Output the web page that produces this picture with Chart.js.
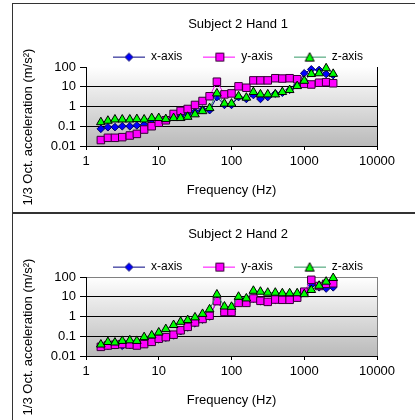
<!DOCTYPE html>
<html lang="en">
<head>
  <meta charset="UTF-8" />
  <title>Subject 2 - 1/3 octave hand acceleration</title>
  <script src="https://cdn.jsdelivr.net/npm/chart.js"></script>
  <style>
    html, body { margin: 0; padding: 0; background: #fff; width: 415px; height: 420px; overflow: hidden; }
    .panel { position: absolute; left: 12px; width: 470px; border: 1px solid #333; overflow: hidden; }
    #panel1 { top: 3px; height: 208px; }
    #panel2 { top: 213px; height: 220px; }
    canvas { position: absolute; left: 0; top: 0; }
  </style>
</head>
<body>
  <div class="panel" id="panel1"><canvas id="hand1" width="450" height="208"></canvas></div>
  <div class="panel" id="panel2"><canvas id="hand2" width="450" height="208"></canvas></div>

  <script>
    // 1/3 octave band centre frequencies (Hz)
    const freqs = [1.6, 2, 2.5, 3.15, 4, 5, 6.3, 8, 10, 12.5, 16, 20, 25, 31.5, 40, 50, 63, 80,
      100, 125, 160, 200, 250, 315, 400, 500, 630, 800, 1000, 1250, 1600, 2000, 2500];

    // Hand 1 (m/s²)
    const hand1X = [0.074, 0.089, 0.09, 0.1, 0.1, 0.11, 0.12, 0.14, 0.18, 0.21, 0.3, 0.35, 0.42, 0.55, 0.7, 0.65,
      3, 1.2, 1.2, 3, 2.4, 3.8, 2.4, 3, 4.5, 5, 7, 12, 48, 76, 71, 44, 39];
    const hand1Y = [0.020, 0.026, 0.026, 0.028, 0.034, 0.041, 0.068, 0.1, 0.15, 0.2, 0.42, 0.6, 0.75, 1.2, 1.9, 3.3,
      18, 4.1, 4.6, 10.5, 8.9, 21, 21, 21, 27, 26, 27, 24, 14, 13, 16, 17, 15];
    const hand1Z = [0.16, 0.19, 0.22, 0.22, 0.22, 0.23, 0.22, 0.26, 0.26, 0.23, 0.26, 0.26, 0.3, 0.4, 0.58, 0.83,
      4.6, 1.4, 1.4, 3.3, 2.8, 5.4, 4.1, 4.1, 4.1, 5.4, 6.8, 10.8, 20, 44, 48, 86, 45];

    // Hand 2 (m/s²)
    const hand2X = [0.03, 0.033, 0.035, 0.033, 0.036, 0.035, 0.04, 0.05, 0.07, 0.085, 0.11, 0.18, 0.28, 0.45, 0.7, 1.0,
      6, 1.8, 1.8, 4.8, 4.8, 8, 6, 5.5, 7, 7, 7, 9, 17, 40, 30, 26, 30];
    const hand2Y = [0.029, 0.034, 0.037, 0.04, 0.038, 0.034, 0.04, 0.052, 0.075, 0.09, 0.12, 0.2, 0.3, 0.5, 0.75, 1.1,
      6, 1.7, 1.7, 4.9, 4.9, 8.2, 6.2, 5.5, 7.2, 7, 7, 9, 18, 72, 35, 45, 48];
    const hand2Z = [0.038, 0.051, 0.048, 0.058, 0.062, 0.058, 0.09, 0.11, 0.155, 0.23, 0.37, 0.54, 0.66, 0.9, 1.35, 2.3,
      13, 3.2, 3.1, 10, 8.2, 20, 18, 16, 16, 15, 15, 15, 13.5, 22, 36, 58, 89];

    const xTicks = [1, 10, 100, 1000, 10000];
    const yTicks = [0.01, 0.1, 1, 10, 100];
    const seriesNames = ['x-axis', 'y-axis', 'z-axis'];
    const yTitle = '1/3 Oct. acceleration (m/s\u00b2)';
    const xTitle = 'Frequency (Hz)';

    const FONT = "'Liberation Sans', Arial, sans-serif";
    Chart.defaults.font.family = FONT;
    Chart.defaults.color = '#000';

    // series look: line colour, marker fill, marker border, marker shape, radius
    const looks = [
      { line: '#000080', fill: '#0000ff', edge: '#000060', shape: 'rectRot', r: 3.8 },
      { line: '#ff00ff', fill: '#ff00ff', edge: '#330033', shape: 'rect', r: 5.3 },
      { line: '#339966', fill: '#00ff00', edge: '#000000', shape: 'triangle', r: 5 }
    ];

    // little line+marker pictures for the legend
    function legendIcon(look) {
      const c = document.createElement('canvas');
      c.width = 32; c.height = 12;
      const g = c.getContext('2d');
      g.strokeStyle = look.line;
      g.lineWidth = 1;
      g.beginPath(); g.moveTo(0, 6.5); g.lineTo(32, 6.5); g.stroke();
      g.fillStyle = look.fill;
      g.strokeStyle = look.edge;
      g.beginPath();
      if (look.shape === 'rectRot') {
        g.moveTo(16, 2.5); g.lineTo(20, 6.5); g.lineTo(16, 10.5); g.lineTo(12, 6.5); g.closePath();
      } else if (look.shape === 'rect') {
        g.rect(12.5, 2.5, 8, 8);
      } else {
        g.moveTo(16, 2); g.lineTo(20.5, 10.5); g.lineTo(11.5, 10.5); g.closePath();
      }
      g.fill(); g.stroke();
      return c;
    }
    const icons = looks.map(legendIcon);

    // grey gradient behind the plot
    const plotBackground = {
      id: 'plotBackground',
      beforeDraw(chart) {
        const a = chart.chartArea;
        const ctx = chart.ctx;
        const grad = ctx.createLinearGradient(0, a.top, 0, a.bottom);
        grad.addColorStop(0, '#ffffff');
        grad.addColorStop(1, '#bababa');
        ctx.save();
        ctx.fillStyle = grad;
        ctx.fillRect(a.left, a.top, a.right - a.left, a.bottom - a.top);
        ctx.restore();
      }
    };

    // y title sits centred on the panel, not on the plot
    const sideTitle = {
      id: 'sideTitle',
      afterDraw(chart) {
        const ctx = chart.ctx;
        ctx.save();
        ctx.translate(15, 123);
        ctx.rotate(-Math.PI / 2);
        ctx.font = '13px ' + FONT;
        ctx.fillStyle = '#000';
        ctx.textAlign = 'center';
        ctx.textBaseline = 'middle';
        ctx.fillText(yTitle, 0, 0);
        ctx.restore();
      }
    };

    function makeChart(id, title, xs, ys, zs, topLine) {
      const datasets = [xs, ys, zs].map((vals, i) => ({
        label: seriesNames[i],
        data: freqs.map((f, k) => ({ x: f, y: vals[k] })),
        borderColor: looks[i].line,
        borderWidth: 1,
        pointStyle: looks[i].shape,
        pointRadius: looks[i].r,
        pointBackgroundColor: looks[i].fill,
        pointBorderColor: looks[i].edge,
        pointBorderWidth: 1,
        order: 2 - i,
        clip: false
      }));

      return new Chart(document.getElementById(id), {
        type: 'line',
        data: { datasets },
        options: {
          responsive: false,
          animation: false,
          layout: { padding: 0 },
          plugins: {
            title: {
              display: true,
              text: title,
              font: { size: 13, weight: 'normal' },
              color: '#000',
              padding: { top: 13, bottom: -3 }
            },
            legend: {
              maxHeight: 37.4,
              labels: {
                usePointStyle: true,
                pointStyleWidth: 32,
                padding: 21,
                font: { size: 12 },
                color: '#000',
                sort: (a, b) => a.datasetIndex - b.datasetIndex,
                generateLabels(chart) {
                  const items = Chart.defaults.plugins.legend.labels.generateLabels(chart);
                  return items.map(item => Object.assign(item, { pointStyle: icons[item.datasetIndex] }));
                }
              }
            },
            tooltip: { enabled: false }
          },
          scales: {
            x: {
              type: 'logarithmic',
              min: 1,
              max: 10000,
              afterBuildTicks: s => { s.ticks = xTicks.map(v => ({ value: v })); },
              afterFit: s => { s.height = 66; s.paddingRight = 86; },
              ticks: { callback: v => String(v), font: { size: 13 }, padding: 4, maxRotation: 0, autoSkip: false },
              grid: {
                color: c => (c.tick && c.tick.value === 10000 ? (topLine ? '#808080' : '#000') : 'rgba(0,0,0,0)'),
                tickColor: '#000',
                tickLength: 4
              },
              border: { color: '#000', width: 1 },
              title: { display: true, text: xTitle, font: { size: 13 }, padding: { top: 0, bottom: 14 } }
            },
            y: {
              type: 'logarithmic',
              min: 0.01,
              max: 100,
              afterBuildTicks: s => { s.ticks = yTicks.map(v => ({ value: v })); },
              afterFit: s => { s.width = 73; },
              ticks: { callback: v => String(v), font: { size: 13 }, padding: 4, autoSkip: false },
              grid: {
                color: c => {
                  const v = c.tick ? c.tick.value : 0;
                  if (v === 100) return topLine ? '#808080' : 'rgba(0,0,0,0)';
                  return '#000';
                },
                tickColor: '#000',
                tickLength: 6
              },
              border: { color: '#000', width: 1 }
            }
          }
        },
        plugins: [plotBackground, sideTitle]
      });
    }

    makeChart('hand1', 'Subject 2 Hand 1', hand1X, hand1Y, hand1Z, false);
    makeChart('hand2', 'Subject 2 Hand 2', hand2X, hand2Y, hand2Z, true);
  </script>
</body>
</html>
